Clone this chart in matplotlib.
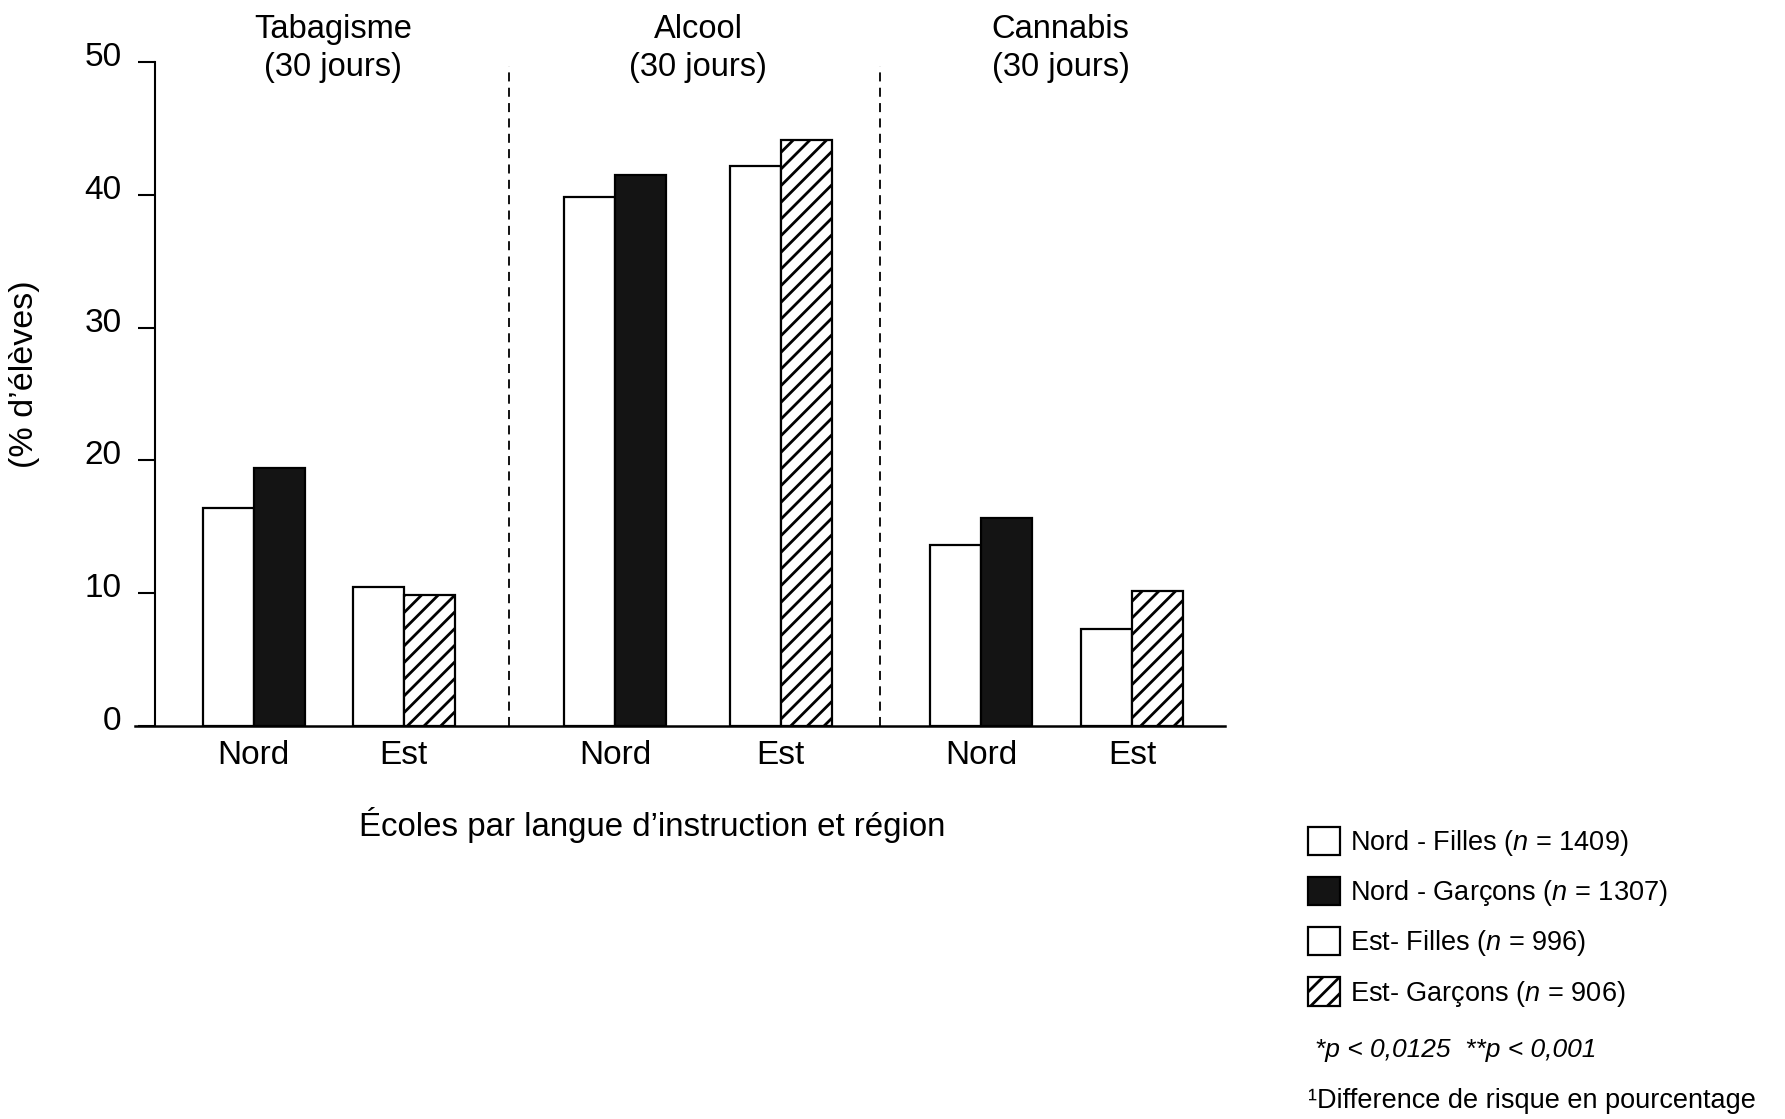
# substance use chart: % of students by school region and sex (30 days)
import matplotlib
matplotlib.use("Agg")
import matplotlib.pyplot as plt
import matplotlib.transforms as mtransforms
import numpy as np

plt.rcParams['font.family'] = ['Liberation Sans', 'DejaVu Sans']
plt.rcParams['mathtext.fontset'] = 'custom'
plt.rcParams['mathtext.rm'] = 'Liberation Sans'
plt.rcParams['mathtext.it'] = 'Liberation Sans:italic'
plt.rcParams['hatch.linewidth'] = 2.0

# data
groups = ['Tabagisme\n(30 jours)', 'Alcool\n(30 jours)', 'Cannabis\n(30 jours)']
regions = ['Nord', 'Est']
nord_filles = [16.4, 39.8, 13.6]
nord_garcons = [19.4, 41.5, 15.7]
est_filles = [10.5, 42.2, 7.3]
est_garcons = [9.9, 44.1, 10.2]
legend_labels = ['Nord - Filles ($n$ = 1409)', 'Nord - Garçons ($n$ = 1307)',
                 'Est- Filles ($n$ = 996)', 'Est- Garçons ($n$ = 906)']
y_ticks = [0, 10, 20, 30, 40, 50]

# layout (x in bar-width units, y axis at 0)
nord_pos = np.array([1.94, 9.02, 16.2])
est_pos = np.array([4.88, 12.27, 19.16])
title_pos = [3.49, 10.65, 17.76]
divider_pos = [6.94, 14.22]
w = 1.0

fig = plt.figure(figsize=(17.85, 11.19), dpi=100)
ax = fig.add_axes([0.0756, 0.3512, 0.6106, 0.5934])

edge = dict(edgecolor='black', linewidth=1.6)
b1 = ax.bar(nord_pos - w / 2, nord_filles, w, color='white', **edge)
b2 = ax.bar(nord_pos + w / 2, nord_garcons, w, color='#141414', **edge)
b3 = ax.bar(est_pos - w / 2, est_filles, w, color='white', **edge)
b4 = ax.bar(est_pos + w / 2, est_garcons, w, color='white', hatch='//', **edge)

# dashed separators between substances
for x in divider_pos:
    ax.plot([x, x], [0, 49.7], color='black', linestyle=(0, (5, 3.5)), linewidth=1.3)

# group titles above the plot
for x, t in zip(title_pos, groups):
    ax.text(x, 51.0, t, ha='center', va='center', fontsize=23.5, linespacing=1.3, clip_on=False)

ax.set_xlim(-0.39, 20.98)
ax.set_ylim(0, 50)
ax.spines['top'].set_visible(False)
ax.spines['right'].set_visible(False)
ax.spines['left'].set_position(('data', 0))
ax.spines['left'].set_linewidth(1.5)
ax.spines['bottom'].set_linewidth(1.8)

ax.set_yticks(y_ticks)
ax.tick_params(axis='y', length=12, width=1.5, pad=12, labelsize=24)
ax.set_xticks(np.concatenate([nord_pos, est_pos]), regions[:1] * 3 + regions[1:] * 3)
ax.tick_params(axis='x', length=0, pad=10, labelsize=24)

# tick labels sit a bit above their ticks in the original
shift = mtransforms.ScaledTranslation(0, 0.08, fig.dpi_scale_trans)
for lab in ax.get_yticklabels():
    lab.set_transform(lab.get_transform() + shift)

fig.text(652 / 1785, 1 - 825 / 1119, 'Écoles par langue d\u2019instruction et région',
         ha='center', va='center', fontsize=23.8)
fig.text(25 / 1785, 1 - 374 / 1119, '(% d\u2019élèves)', rotation=90,
         ha='center', va='center', fontsize=24.5)

fig.legend([b1, b2, b3, b4], legend_labels, loc='upper left',
           bbox_to_anchor=(1308 / 1785, 1 - 827 / 1119), frameon=False,
           fontsize=19.5, handlelength=1.18, handleheight=1.22,
           handletextpad=0.37, labelspacing=0.70, borderpad=0, borderaxespad=0)

fig.text(1315 / 1785, 1 - 1050 / 1119, '*p < 0,0125  **p < 0,001',
         style='italic', va='center', fontsize=19)
fig.text(1308 / 1785, 1 - 1101 / 1119, '\u00b9Difference de risque en pourcentage',
         va='center', fontsize=19.5)

plt.savefig('out.png', dpi=100)
